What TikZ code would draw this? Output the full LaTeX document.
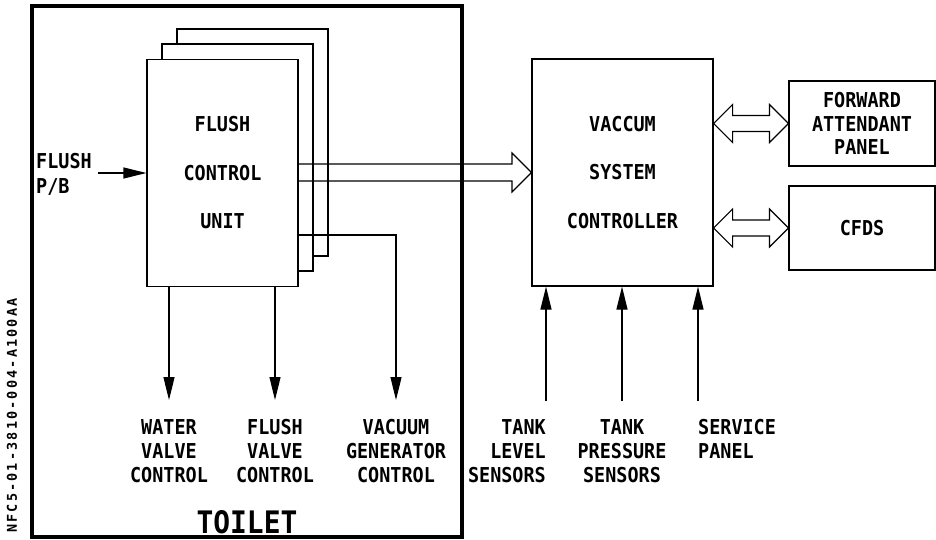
\documentclass[tikz,border=0pt]{standalone}
\usepackage{fontspec}
\newfontfamily\cadfont[FakeStretch=0.9]{DejaVu Sans Mono}
\newfontfamily\codefont[LetterSpace=16]{DejaVu Sans Mono}
\usetikzlibrary{arrows.meta,calc}
\tikzset{
  box/.style={draw, line width=1.2pt, fill=white, inner sep=0pt},
  inbox/.style={font=\cadfont\bfseries\fontsize{20.5}{48.5}\selectfont, align=center},
  lbl/.style={font=\cadfont\bfseries\fontsize{20.5}{24}\selectfont, inner sep=0pt},
  conn/.style={line width=1.2pt, -{Triangle[length=23pt,width=11pt]}},
  hollow/.style={draw, line width=1.2pt, line join=miter},
}
\begin{document}
\begin{tikzpicture}[x=1pt,y=-1pt]
\useasboundingbox (0,0) rectangle (936,540);

% toilet enclosure
\node[draw, line width=3.5pt, minimum width=430pt, minimum height=531pt, inner sep=0pt] (toilet) at (247,271.3) {};
\node[font=\cadfont\bfseries\fontsize{31}{31}\selectfont, anchor=north, inner sep=0pt] (toiletlbl) at (247,510) {TOILET};

% stacked flush control units
\node[box, minimum width=151pt, minimum height=227pt] (fcu3) at (252.5,142.5) {};
\node[box, minimum width=151pt, minimum height=227pt] (fcu2) at (237.5,157.5) {};
\node[box, inbox, minimum width=151pt, minimum height=227pt] (fcu) at (222.5,173) {FLUSH\\CONTROL\\UNIT};

% vacuum system controller
\node[box, inbox, minimum width=181pt, minimum height=227pt] (vsc) at (622.5,172.5) {VACCUM\\SYSTEM\\CONTROLLER};

% right boxes
\node[box, font=\cadfont\bfseries\fontsize{20.5}{23.5}\selectfont, align=center, minimum width=146pt, minimum height=85pt] (fap) at (862,123.5) {FORWARD\\ATTENDANT\\PANEL};
\node[box, inbox, minimum width=146pt, minimum height=84pt] (cfds) at (862,228) {CFDS};

% flush P/B input
\node[lbl, align=left, anchor=north west, font=\cadfont\bfseries\fontsize{20.5}{25}\selectfont] (pblbl) at (36,153) {FLUSH\\P/B};
\coordinate (pb) at (98,173);
\draw[conn] (pb) -- (fcu.west);

% outputs of flush control unit
\coordinate (wv) at (169,400);
\coordinate (fv) at (275,400);
\coordinate (vg) at (396,400);
\draw[conn] (fcu.south -| wv) -- (wv);
\draw[conn] (fcu.south -| fv) -- (fv);
\draw[conn] ($(fcu.east)+(0,62)$) -| (vg);

\node[lbl, align=center, anchor=north] (wvl) at (169,419) {WATER\\VALVE\\CONTROL};
\node[lbl, align=center, anchor=north] (fvl) at (275,419) {FLUSH\\VALVE\\CONTROL};
\node[lbl, align=center, anchor=north] (vgl) at (396,419) {VACUUM\\GENERATOR\\CONTROL};

% hollow arrow FCU -> VSC
\draw[hollow] ($(fcu.east |- vsc.west)+(0,-8.5)$) -- ($(vsc.west)+(-19.5,-8.5)$) -- ($(vsc.west)+(-19.5,-19.5)$) -- (vsc.west) -- ($(vsc.west)+(-19.5,19.5)$) -- ($(vsc.west)+(-19.5,8.5)$) -- ($(fcu.east |- vsc.west)+(0,8.5)$);

% double hollow arrows
\coordinate (fa1) at (vsc.east |- fap.west);
\draw[hollow] (fa1) -- ($(fa1)+(19,-19)$) -- ($(fa1)+(19,-8)$) -- ($(fap.west)+(-19,-8)$) -- ($(fap.west)+(-19,-19)$) -- (fap.west) -- ($(fap.west)+(-19,19)$) -- ($(fap.west)+(-19,8)$) -- ($(fa1)+(19,8)$) -- ($(fa1)+(19,19)$) -- cycle;
\coordinate (cf1) at (vsc.east |- cfds.west);
\draw[hollow] (cf1) -- ($(cf1)+(19,-19)$) -- ($(cf1)+(19,-8)$) -- ($(cfds.west)+(-19,-8)$) -- ($(cfds.west)+(-19,-19)$) -- (cfds.west) -- ($(cfds.west)+(-19,19)$) -- ($(cfds.west)+(-19,8)$) -- ($(cf1)+(19,8)$) -- ($(cf1)+(19,19)$) -- cycle;

% sensor inputs
\coordinate (tls) at (546,401);
\coordinate (tps) at (622,401);
\coordinate (svp) at (698,401);
\draw[conn] (tls) -- (tls |- vsc.south);
\draw[conn] (tps) -- (tps |- vsc.south);
\draw[conn] (svp) -- (svp |- vsc.south);

\node[lbl, align=right, anchor=north east] (tlsl) at (546,419) {TANK\\LEVEL\\SENSORS};
\node[lbl, align=center, anchor=north] (tpsl) at (622,419) {TANK\\PRESSURE\\SENSORS};
\node[lbl, align=left, anchor=north west] (svpl) at (698,419) {SERVICE\\PANEL};

% drawing code
\node[rotate=90, inner sep=0pt, font=\codefont\bfseries\fontsize{13.5}{14}\selectfont] (code) at (12,415.5) {NFC5-01-3810-004-A100AA};
\end{tikzpicture}
\end{document}
